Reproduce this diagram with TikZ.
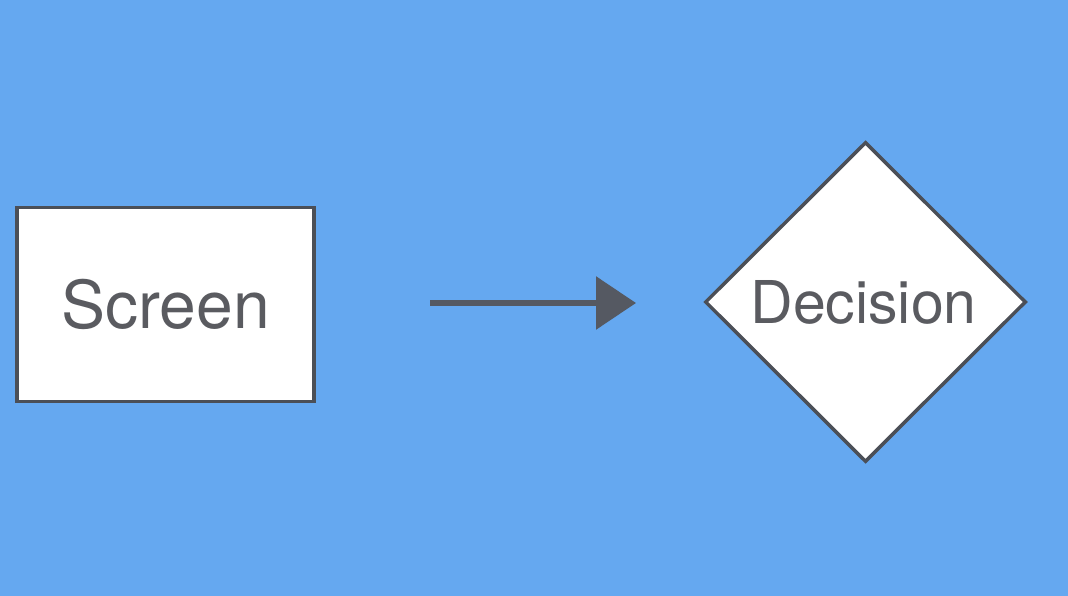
\documentclass[tikz,border=0pt]{standalone}
\usepackage{fontspec}
\setmainfont{TeX Gyre Heros}
\usetikzlibrary{shapes.geometric,arrows.meta}
\definecolor{bg}{HTML}{65A8F0}
\definecolor{edge}{HTML}{4B4F57}
\definecolor{txt}{HTML}{5A5B60}
\definecolor{arr}{HTML}{555962}
\tikzset{
  box/.style={draw=edge, fill=white, line width=3.5pt, rectangle, minimum width=297pt, minimum height=194pt, inner sep=0pt, text=txt, font=\fontsize{66}{66}\selectfont},
  dec/.style={draw=edge, fill=white, line width=3.5pt, diamond, minimum width=321pt, minimum height=320pt, inner sep=0pt, text=txt, font=\fontsize{59}{59}\selectfont},
  conn/.style={draw=arr, line width=6pt, -{Triangle[length=40pt,width=52pt]}}
}
\begin{document}
\begin{tikzpicture}[x=1pt,y=-1pt]
\fill[bg] (0,0) rectangle (1068,596);
\useasboundingbox (0,0) rectangle (1068,596);
\node[box] (screen) at (165.5,304.5) {Screen};
\node[dec] (decision) at (865.5,302) {\hspace*{-4pt}\raisebox{-3pt}{Decision}};
\coordinate (a1) at (430,303);
\coordinate (a2) at (636,303);
\draw[conn] (a1) -- (a2);
\end{tikzpicture}
\end{document}
